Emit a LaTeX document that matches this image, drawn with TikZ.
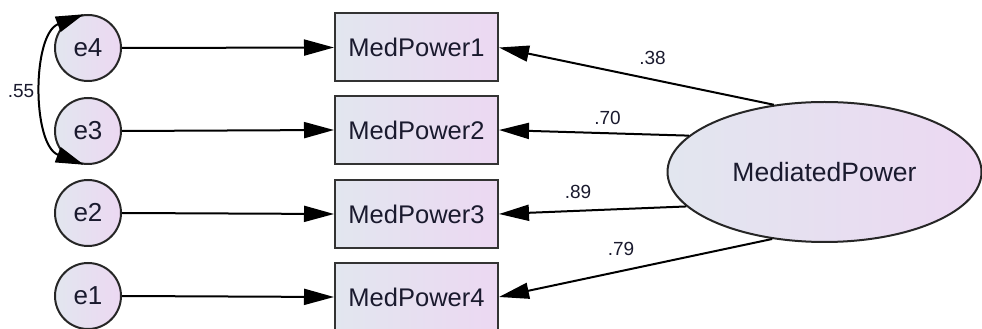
\documentclass[tikz,border=0pt]{standalone}
\usepackage{fontspec}
\setmainfont{Liberation Sans}
\usetikzlibrary{arrows.meta,shapes.geometric}
\definecolor{fillL}{HTML}{E2E6EF}
\definecolor{fillR}{HTML}{ECD8F2}
\definecolor{txt}{HTML}{1A1A2E}
\begin{document}
\begin{tikzpicture}[x=1pt,y=1pt,
  err/.style={circle,draw=black!85,line width=2pt,minimum size=66pt,inner sep=0pt,
    left color=fillL,right color=fillR,text=txt,font=\fontsize{26}{30}\selectfont},
  obs/.style={rectangle,draw=black!80,line width=2pt,minimum width=163pt,minimum height=68pt,
    inner sep=0pt,left color=fillL,right color=fillR,text=txt,font=\fontsize{25.5}{30}\selectfont},
  lat/.style={ellipse,draw=black!85,line width=2pt,minimum width=314pt,minimum height=140pt,
    inner sep=0pt,left color=fillL,right color=fillR,text=txt,font=\fontsize{26.5}{30}\selectfont},
  path/.style={line width=2pt,-{Triangle[length=30pt,width=16pt]}},
  coef/.style={font=\fontsize{19}{22}\selectfont,text=txt,inner sep=0pt}]
\useasboundingbox (0,0) rectangle (982,329);
\node[err] (e4) at (88,281) {e4};
\node[err] (e3) at (88,198) {e3};
\node[err] (e2) at (88,116) {e2};
\node[err] (e1) at (88,33) {e1};
\node[obs] (m1) at (416.5,281.5) {MedPower1};
\node[obs] (m2) at (416.5,199) {MedPower2};
\node[obs] (m3) at (416.5,115) {MedPower3};
\node[obs] (m4) at (416.5,32) {MedPower4};
\node[lat] (mp) at (824.5,157) {MediatedPower};
\draw[path] (e4.east) -- (m1.west);
\draw[path] (e3.east) -- (m2.west);
\draw[path] (e2.east) -- (m3.west);
\draw[path] (e1.east) -- (m4.west);
\draw[path] (mp.127.3) -- (m1.east);
\draw[path] (mp.165.9) -- (m2.east);
\draw[path] (mp.194.1) -- (m3.east);
\draw[path] (mp.232.3) -- (m4.east);
\draw[line width=2pt,{Triangle[length=28pt,width=16pt]}-{Triangle[length=28pt,width=16pt]}]
  (e4.97) .. controls +(-52,-20) and +(-52,20) .. (e3.263);
\node[coef] (c38) at (652.5,271) {.38};
\node[coef] (c70) at (607.5,211) {.70};
\node[coef] (c89) at (578,137) {.89};
\node[coef] (c79) at (621,80) {.79};
\node[coef] (c55) at (21,237.5) {.55};
\end{tikzpicture}
\end{document}
